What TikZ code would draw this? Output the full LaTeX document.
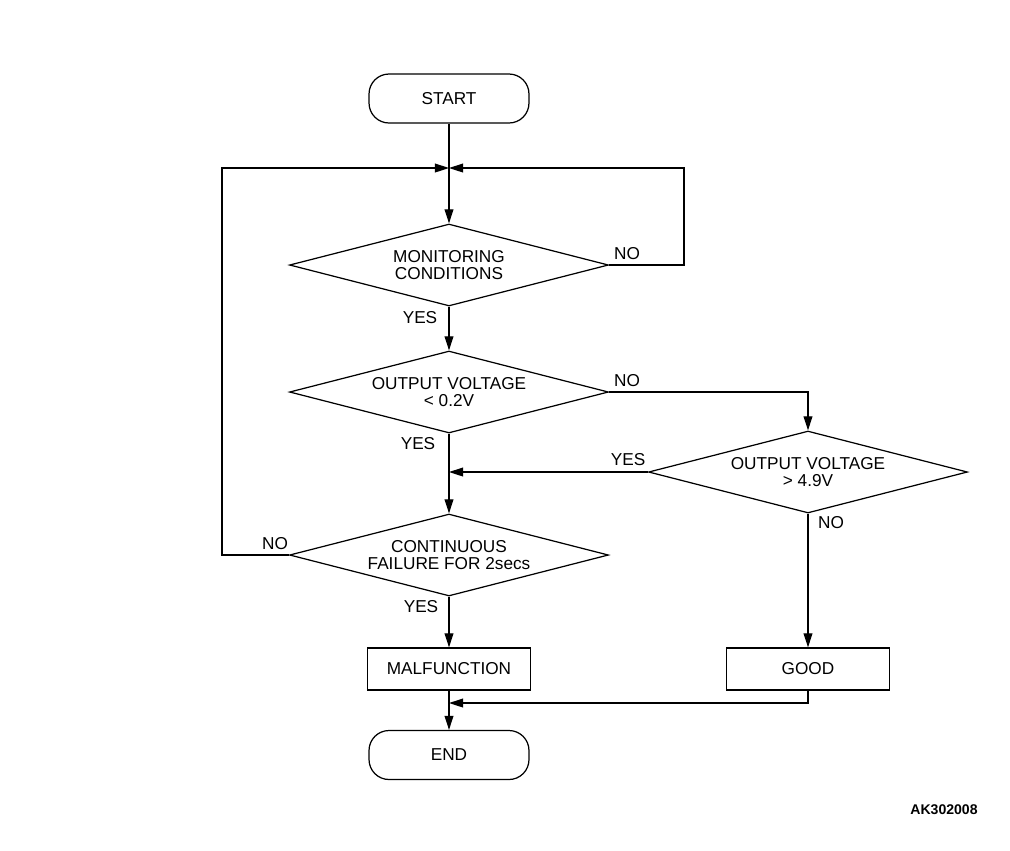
\documentclass[tikz,border=0pt]{standalone}
\usepackage{fontspec}
\setmainfont{Liberation Sans}
\usetikzlibrary{shapes.geometric, arrows.meta}

\begin{document}
\begin{tikzpicture}[x=0.02cm, y=-0.02cm, ->, >={Triangle[length=8pt,width=5pt]},
                  line width=0.7pt,
                  every node/.style={font=\fontsize{9.8}{9.6}\selectfont, align=center},
                  terminal/.style={draw, rectangle, rounded corners=0.4cm,
                    minimum width=3.2cm, minimum height=0.98cm, inner sep=0pt},
                  decision/.style={draw, diamond, aspect=4, minimum width=6.38cm,
                    minimum height=1.64cm, inner sep=0pt},
                  process/.style={draw, rectangle, minimum width=3.26cm,
                    minimum height=0.84cm, inner sep=0pt},
                  lbl/.style={inner sep=0pt}]

                  \useasboundingbox (0,0) rectangle (1010,850);

                  % Colocamos los bloques del diagrama.
                  \node[terminal] (start) at (449,98.5) {START};
                  \node[decision] (mon) at (449,265) {MONITORING\\CONDITIONS};
                  \node[decision] (vol1) at (449,392) {OUTPUT VOLTAGE\\< 0.2V};
                  \node[decision] (vol2) at (808,472) {OUTPUT VOLTAGE\\> 4.9V};
                  \node[decision] (cont) at (449,555) {CONTINUOUS\\FAILURE FOR 2secs};
                  \node[process] (malf) at (449,669) {MALFUNCTION};
                  \node[process] (good) at (808,669) {GOOD};
                  \node[terminal] (end) at (449,755) {END};

                  % Puntos de union de las flechas.
                  \coordinate (join) at (449,168);
                  \coordinate (rloop) at (684,168);
                  \coordinate (lloop) at (222,168);
                  \coordinate (yesin) at (449,472);
                  \coordinate (endin) at (449,703);

                  % Dibujamos las conexiones.
                  \draw (start) -- (mon);
                  \draw (mon.east) -| (rloop) -- (join);
                  \draw (mon) -- (vol1);
                  \draw (vol1.east) -| (vol2);
                  \draw (vol2.west) -- (yesin);
                  \draw (vol1) -- (cont);
                  \draw (cont.west) -| (lloop) -- (join);
                  \draw (cont) -- (malf);
                  \draw (vol2) -- (good);
                  \draw (malf) -- (end);
                  \draw (good.south) |- (endin);

                  % Etiquetas de las ramas.
                  \node[lbl] (no1) at (627,254) {NO};
                  \node[lbl] (yes1) at (420,318) {YES};
                  \node[lbl] (no2) at (627,381) {NO};
                  \node[lbl] (yes2) at (418,444) {YES};
                  \node[lbl] (yes3) at (628,460) {YES};
                  \node[lbl] (no3) at (831,523) {NO};
                  \node[lbl] (no4) at (275,544) {NO};
                  \node[lbl] (yes4) at (421,607) {YES};
                  \node[lbl, font=\bfseries\fontsize{8}{8}\selectfont] (code) at (944,810) {AK302008};

                \end{tikzpicture}
\end{document}
